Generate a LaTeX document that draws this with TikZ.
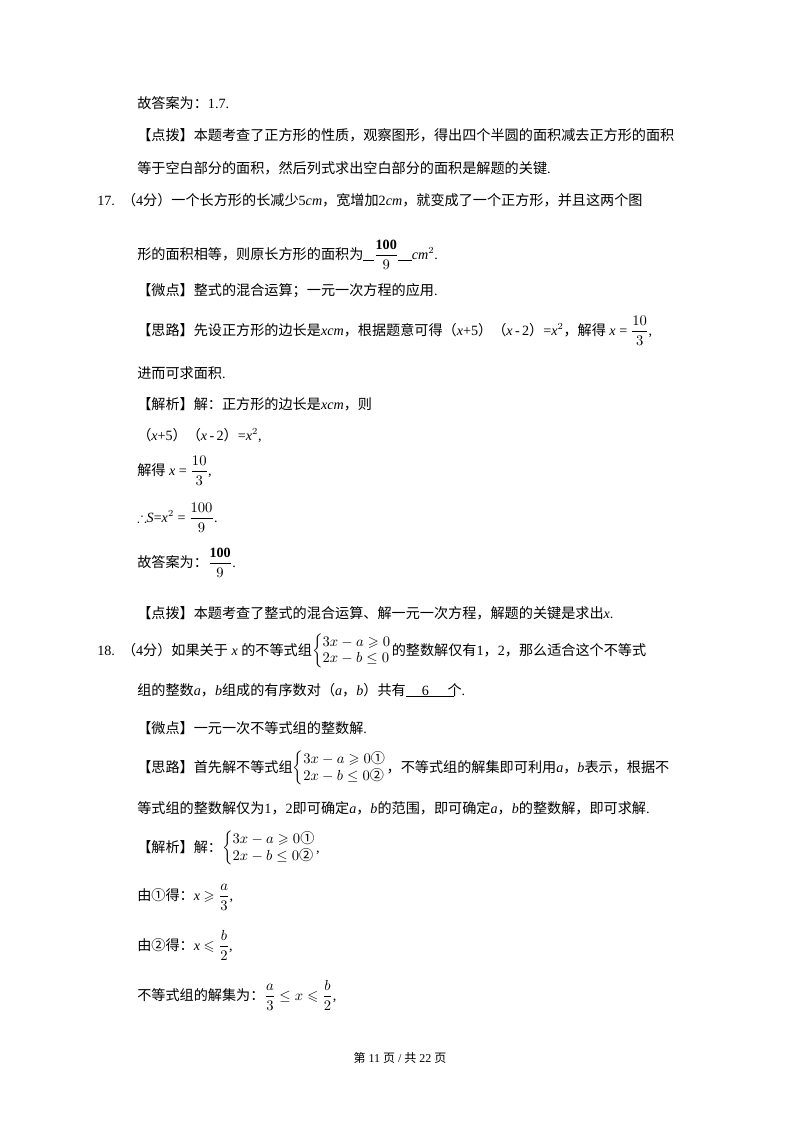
\documentclass[tikz,border=0pt]{standalone}
\usepackage{amssymb}
\usepackage{fontspec}
\setmainfont{Liberation Serif}
\newfontfamily\cjk{Noto Sans CJK SC}
\newcommand\zh[1]{{\cjk #1}}
\newcommand\ul[1]{\rule[-1.5pt]{#1}{0.5pt}}
\begin{document}
\begin{tikzpicture}[x=0.75pt,y=-0.75pt,
  txt/.style={anchor=base west,inner sep=0pt,font=\fontsize{10.6pt}{12pt}\selectfont}]
\useasboundingbox[fill=white] (0,0) rectangle (800,1132);
\node[txt] (l1) at (137,108) {\zh{故答案为：}1.7.};
\node[txt] (l2) at (137,140) {\zh{【点拨】本题考查了正方形的性质，观察图形，得出四个半圆的面积减去正方形的面积}};
\node[txt] (l3) at (137,173) {\zh{等于空白部分的面积，然后列式求出空白部分的面积是解题的关键}.};
\node[txt] (l4) at (97,205) {17.\ \ \zh{（}4\zh{分）一个长方形的长减少}5\textit{cm}\zh{，宽增加}2\textit{cm}\zh{，就变成了一个正方形，并且这两个图}};
\node[txt] (l5) at (137,259) {\zh{形的面积相等，则原长方形的面积为}\ul{8pt}$\displaystyle\frac{\mathbf{100}}{9}$\ul{10pt}\textit{cm}$^2$.};
\node[txt] (l6) at (137,295) {\zh{【微点】整式的混合运算；一元一次方程的应用}.};
\node[txt] (l7) at (137,335) {\zh{【思路】先设正方形的边长是}\textit{xcm}\zh{，根据题意可得（}\textit{x}+5\zh{）（}\textit{x}\,-\,2\zh{）}=\textit{x}$^2$\zh{，解得} \textit{x} = $\displaystyle\frac{10}{3}$,};
\node[txt] (l8) at (137,378) {\zh{进而可求面积}.};
\node[txt] (l9) at (137,409) {\zh{【解析】解：正方形的边长是}\textit{xcm}\zh{，则}};
\node[txt] (l10) at (137,440) {\zh{（}\textit{x}+5\zh{）（}\textit{x}\,-\,2\zh{）}=\textit{x}$^2$,};
\node[txt] (l11) at (137,475) {\zh{解得} \textit{x} = $\displaystyle\frac{10}{3}$,};
\node[txt] (l12) at (137,522) {$\therefore$\textit{S}=\textit{x}$^2$ = $\displaystyle\frac{100}{9}$.};
\node[txt] (l13) at (137,567) {\zh{故答案为：}$\displaystyle\frac{\mathbf{100}}{9}$.};
\node[txt] (l14) at (137,618) {\zh{【点拨】本题考查了整式的混合运算、解一元一次方程，解题的关键是求出}\textit{x}.};
\node[txt] (l15) at (97,655) {18.\ \ \zh{（}4\zh{分）如果关于} \textit{x} \zh{的不等式组}$\left\{\begin{array}{@{}l@{}}3x-a\geqslant 0\\ 2x-b\leq 0\end{array}\right.$\zh{的整数解仅有}1\zh{，}2\zh{，那么适合这个不等式}};
\node[txt] (l16) at (137,695) {\zh{组的整数}\textit{a}\zh{，}\textit{b}\zh{组成的有序数对（}\textit{a}\zh{，}\textit{b}\zh{）共有}\rlap{\ul{36pt}}\hspace{12pt}6\hspace{14pt}\zh{个}.};
\node[txt] (l17) at (137,733) {\zh{【微点】一元一次不等式组的整数解}.};
\node[txt] (l18) at (137,772) {\zh{【思路】首先解不等式组}$\left\{\begin{array}{@{}l@{}}3x-a\geqslant 0\hbox{\zh{①}}\\ 2x-b\leq 0\hbox{\zh{②}}\end{array}\right.$\zh{，不等式组的解集即可利用}\textit{a}\zh{，}\textit{b}\zh{表示，根据不}};
\node[txt] (l19) at (137,813) {\zh{等式组的整数解仅为}1\zh{，}2\zh{即可确定}\textit{a}\zh{，}\textit{b}\zh{的范围，即可确定}\textit{a}\zh{，}\textit{b}\zh{的整数解，即可求解}.};
\node[txt] (l20) at (137,852) {\zh{【解析】解：}$\left\{\begin{array}{@{}l@{}}3x-a\geqslant 0\hbox{\zh{①}}\\ 2x-b\leq 0\hbox{\zh{②}}\end{array}\right.$,};
\node[txt] (l21) at (137,900) {\zh{由①得：}\textit{x} $\geqslant\displaystyle\frac{a}{3}$,};
\node[txt] (l22) at (137,950) {\zh{由②得：}\textit{x} $\leqslant\displaystyle\frac{b}{2}$,};
\node[txt] (l23) at (137,1000) {\zh{不等式组的解集为：}$\displaystyle\frac{a}{3}\leq x\leqslant\frac{b}{2}$,};
\node[txt,anchor=base,font=\fontsize{9pt}{10pt}\selectfont] (ft) at (400,1062) {\zh{第} 11 \zh{页} / \zh{共} 22 \zh{页}};
\end{tikzpicture}
\end{document}
